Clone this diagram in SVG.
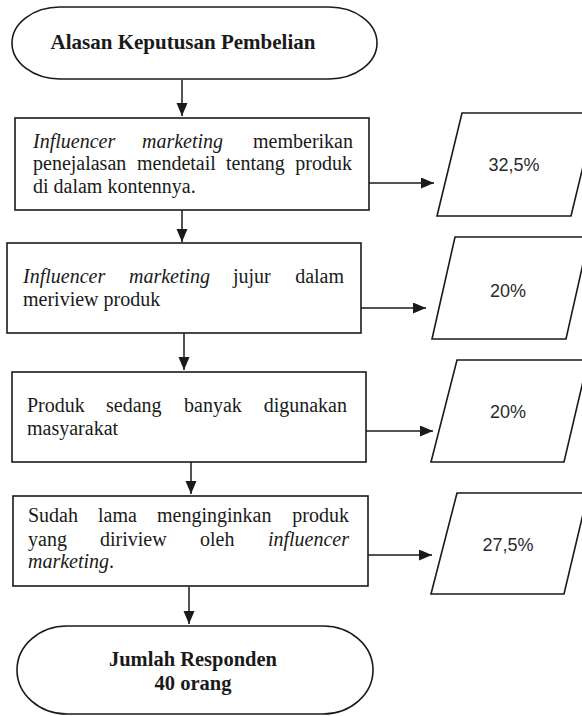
<svg xmlns="http://www.w3.org/2000/svg" width="582" height="716" viewBox="0 0 582 716">
<style>
.shape{fill:#fff;stroke:#1a1a1a;stroke-width:1.6}
.con{fill:none;stroke:#1a1a1a;stroke-width:1.5}
.t{font-family:"Liberation Serif","Times New Roman",serif;font-size:20px;fill:#1a1a1a}
.i{font-style:italic}
.b{font-weight:bold;font-size:20.5px;text-anchor:middle}
.p{font-family:"Liberation Sans",Arial,sans-serif;font-size:18px;fill:#2a2a2a;text-anchor:middle}
</style>
<defs>
<marker id="ah" markerUnits="userSpaceOnUse" markerWidth="14" markerHeight="12" refX="13" refY="5.5" orient="auto">
<path d="M0,0 L13,5.5 L0,11 z" fill="#1a1a1a"/>
</marker>
</defs>
<rect width="582" height="716" fill="#fff"/>
<g id="connectors">
<line class="con" x1="182" y1="80" x2="182" y2="116" marker-end="url(#ah)"/>
<line class="con" x1="182" y1="210" x2="182" y2="242" marker-end="url(#ah)"/>
<line class="con" x1="184" y1="333" x2="184" y2="370" marker-end="url(#ah)"/>
<line class="con" x1="191" y1="462" x2="191" y2="494" marker-end="url(#ah)"/>
<line class="con" x1="189" y1="587" x2="189" y2="624" marker-end="url(#ah)"/>
<line class="con" x1="369" y1="183" x2="434" y2="183" marker-end="url(#ah)"/>
<line class="con" x1="361" y1="308" x2="426" y2="308" marker-end="url(#ah)"/>
<line class="con" x1="366" y1="431" x2="433" y2="431" marker-end="url(#ah)"/>
<line class="con" x1="368" y1="555" x2="432" y2="555" marker-end="url(#ah)"/>
</g>
<g id="start">
<path class="shape" d="M60,7 H329 A48,36 0 0 1 329,79 H60 A48,36 0 0 1 60,7 Z"/>
<text class="t b" x="183" y="49" style="font-size:21px">Alasan Keputusan Pembelian</text>
</g>
<g id="box1">
<rect class="shape" x="15" y="118" width="354" height="92"/>
<text class="t i" x="33" y="148">Influencer</text>
<text class="t i" x="142" y="148">marketing</text>
<text class="t" x="353" y="148" text-anchor="end">memberikan</text>
<text class="t" x="33" y="170">penejalasan</text>
<text class="t" x="137" y="170">mendetail</text>
<text class="t" x="226" y="170">tentang</text>
<text class="t" x="352" y="170" text-anchor="end">produk</text>
<text class="t" x="33" y="193">di dalam kontennya.</text>
</g>
<g id="box2">
<rect class="shape" x="7" y="243" width="354" height="90"/>
<text class="t i" x="23" y="283">Influencer</text>
<text class="t i" x="129" y="283">marketing</text>
<text class="t" x="233" y="283">jujur</text>
<text class="t" x="344" y="283" text-anchor="end">dalam</text>
<text class="t" x="23" y="306">meriview produk</text>
</g>
<g id="box3">
<rect class="shape" x="12" y="372" width="354" height="90"/>
<text class="t" x="27" y="412">Produk</text>
<text class="t" x="106" y="412">sedang</text>
<text class="t" x="184" y="412">banyak</text>
<text class="t" x="347" y="412" text-anchor="end">digunakan</text>
<text class="t" x="27" y="435">masyarakat</text>
</g>
<g id="box4">
<rect class="shape" x="13" y="496" width="355" height="90"/>
<text class="t" x="28" y="522">Sudah</text>
<text class="t" x="98" y="522">lama</text>
<text class="t" x="157" y="522">menginginkan</text>
<text class="t" x="349" y="522" text-anchor="end">produk</text>
<text class="t" x="28" y="546">yang</text>
<text class="t" x="100" y="546">diriview</text>
<text class="t" x="200" y="546">oleh</text>
<text class="t i" x="349" y="546" text-anchor="end">influencer</text>
<text class="t" x="28" y="568"><tspan class="i">marketing</tspan>.</text>
</g>
<g id="p1">
<polygon class="shape" points="462,113 596,113 571,216 437,216"/>
<text class="p" x="514" y="171">32,5%</text>
</g>
<g id="p2">
<polygon class="shape" points="455,237 589,237 566,339 432,339"/>
<text class="p" x="508" y="297">20%</text>
</g>
<g id="p3">
<polygon class="shape" points="457,360 588,360 564,462 431,462"/>
<text class="p" x="508" y="418">20%</text>
</g>
<g id="p4">
<polygon class="shape" points="457,493 588,493 564,594 431,594"/>
<text class="p" x="508" y="551">27,5%</text>
</g>
<g id="end">
<path class="shape" d="M67,626 H323 A50,44 0 0 1 323,714 H67 A50,44 0 0 1 67,626 Z"/>
<text class="t b" x="193" y="666">Jumlah Responden</text>
<text class="t b" x="193" y="690">40 orang</text>
</g>
</svg>
